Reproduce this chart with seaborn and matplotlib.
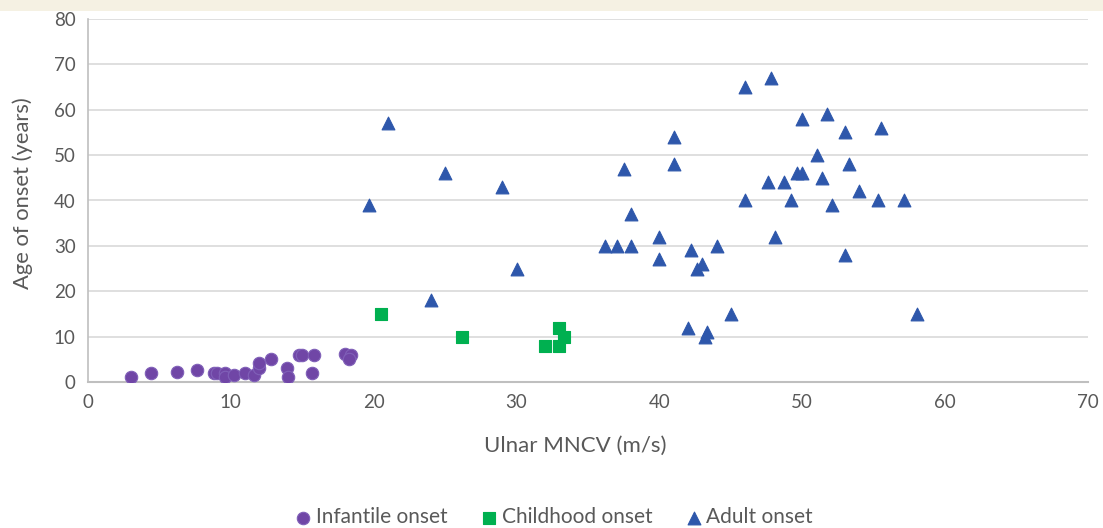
import numpy as np
import pandas as pd
import matplotlib
matplotlib.use("Agg")
import matplotlib.pyplot as plt
import seaborn as sns

# Data
infantile_x = [3.0, 4.4, 6.2, 7.6, 8.8, 9.0, 9.6, 9.6, 10.2, 11.0, 11.6, 12.0, 12.0, 12.8,
               13.9, 14.0, 14.8, 15.0, 15.8, 15.7, 18.0, 18.4, 18.3]
infantile_y = [1.0, 2.0, 2.3, 2.6, 2.0, 2.0, 2.0, 1.0, 1.5, 2.0, 1.5, 3.1, 4.1, 5.0,
               3.1, 1.0, 6.0, 6.0, 6.0, 2.0, 6.2, 6.0, 5.0]

childhood_x = [20.5, 26.2, 32.0, 33.0, 33.3, 33.0]
childhood_y = [15, 10, 8, 12, 10, 8]

adult_x = [19.7, 21.0, 24.0, 25.0, 29.0, 30.0, 36.2, 37.0, 37.5, 38.0, 38.0, 40.0, 40.0,
           41.0, 41.0, 42.0, 42.2, 42.6, 43.0, 43.2, 43.3, 44.0, 45.0, 46.0, 46.0, 47.6,
           47.8, 48.1, 48.7, 49.2, 49.6, 50.0, 50.0, 51.0, 51.4, 51.7, 52.1, 53.0, 53.0,
           53.3, 54.0, 55.3, 55.5, 57.1, 58.0]
adult_y = [39, 57, 18, 46, 43, 25, 30, 30, 47, 37, 30, 32, 27,
           54, 48, 12, 29, 25, 26, 10, 11, 30, 15, 65, 40, 44,
           67, 32, 44, 40, 46, 58, 46, 50, 45, 59, 39, 55, 28,
           48, 42, 40, 56, 40, 15]

groups = ["Infantile onset", "Childhood onset", "Adult onset"]
colors = ["#7046A6", "#00B050", "#2E57AB"]
markers = ["o", "s", "^"]

df = pd.DataFrame({
    "x": infantile_x + childhood_x + adult_x,
    "y": infantile_y + childhood_y + adult_y,
    "group": [groups[0]] * len(infantile_x) + [groups[1]] * len(childhood_x)
             + [groups[2]] * len(adult_x),
})

sns.set_theme(style="white")
plt.rcParams["font.family"] = ["Lato", "DejaVu Sans"]
text_color = "#595959"

fig = plt.figure(figsize=(11.03, 5.28), dpi=100)
# beige strip at top
fig.patches.append(plt.Rectangle((0, 1 - 11 / 528), 1, 11 / 528, transform=fig.transFigure,
                                 facecolor="#F5F1E3", edgecolor="none", zorder=0))
ax = fig.add_axes([88 / 1103, 1 - 382 / 528, 1000 / 1103, 363 / 528])

sizes = {groups[0]: 80, groups[1]: 70, groups[2]: 85}
for g, c, m in zip(groups, colors, markers):
    sub = df[df["group"] == g]
    edge = "#8060B8" if m == "o" else c
    sns.scatterplot(data=sub, x="x", y="y", ax=ax, color=c, marker=m, s=sizes[g],
                    edgecolor=edge, linewidth=0.8, label=g, zorder=3)

ax.set_xlim(0, 70)
ax.set_ylim(0, 80)
ax.set_xticks(np.arange(0, 71, 10))
ax.set_yticks(np.arange(0, 81, 10))
ax.grid(axis="y", color="#D9D9D9", linewidth=1.2)
ax.set_axisbelow(True)
for s in ["top", "right"]:
    ax.spines[s].set_visible(False)
ax.spines["left"].set_color("#BFBFBF")
ax.spines["left"].set_linewidth(1.2)
ax.spines["bottom"].set_color("#BFBFBF")
ax.spines["bottom"].set_linewidth(1.5)
ax.tick_params(axis="both", length=0, labelsize=13.5, labelcolor=text_color, pad=9)
ax.set_xlabel("Ulnar MNCV (m/s)", fontsize=16, color=text_color)
ax.set_ylabel("Age of onset (years)", fontsize=15.8, color=text_color)
ax.xaxis.set_label_coords(0.487, -0.148)
ax.yaxis.set_label_coords(-0.055, 0.52)

ax.get_legend().remove()
handles, labels = ax.get_legend_handles_labels()
fig.legend(handles, labels, loc="center", bbox_to_anchor=(555 / 1103, 1 - 517 / 528),
           ncol=3, frameon=False, fontsize=15, labelcolor=text_color,
           handlelength=0.6, handletextpad=0.3, columnspacing=1.7, markerscale=1.0)

fig.savefig("out.png", dpi=100)
